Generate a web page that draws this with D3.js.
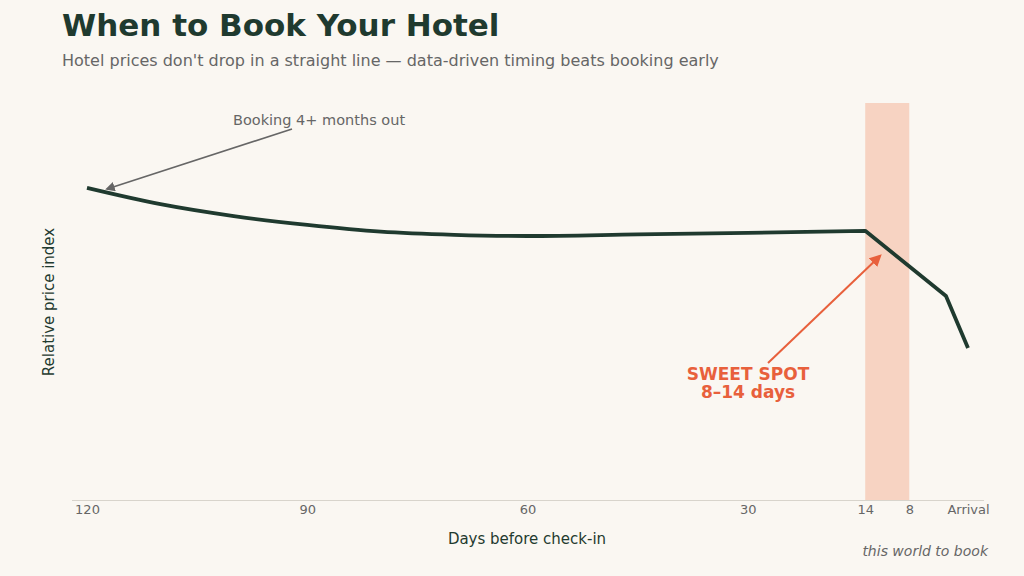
<!DOCTYPE html><html><head><meta charset="utf-8">
<script src="https://cdn.jsdelivr.net/npm/d3@7"></script>
<style>body{margin:0;background:#faf7f2;font-family:"DejaVu Sans",sans-serif}</style></head><body>
<svg id="c" width="1024" height="576"></svg>
<script>
const days=[120,110,100,90,80,70,60,45,30,14,3,0];
const price=[78.6,74.5,71.5,69.3,67.6,66.8,66.5,66.9,67.3,67.8,51.4,38.3];
const tickVals=[120,90,60,30,14,8,0];
const tickLabels=["120","90","60","30","14","8","Arrival"];
const band=[14,8];
const svg=d3.select("#c");
svg.append("rect").attr("width",1024).attr("height",576).attr("fill","#faf7f2");
const x=d3.scaleLinear().domain([120,0]).range([87,968]);
const y=d3.scaleLinear().domain([0,100]).range([500,103]);
svg.append("rect").attr("x",x(band[0])).attr("y",y(100)).attr("width",x(band[1])-x(band[0])).attr("height",y(0)-y(100)).attr("fill","#f7d3c2");
svg.append("line").attr("x1",72).attr("x2",984).attr("y1",500.5).attr("y2",500.5).attr("stroke","#d8d4cc");
const ax=svg.append("g").attr("transform","translate(0,500)").call(d3.axisBottom(x).tickValues(tickVals).tickFormat((d,i)=>tickLabels[i]).tickSize(0).tickPadding(5));
ax.select(".domain").remove();
ax.selectAll("text").attr("font-size",13).attr("fill","#666").attr("font-family","DejaVu Sans");
const pts=days.map((d,i)=>[d,price[i]]);
const i14=days.indexOf(14);
const smooth=d3.line().x(d=>x(d[0])).y(d=>y(d[1])).curve(d3.curveMonotoneX);
const lin=d3.line().x(d=>x(d[0])).y(d=>y(d[1]));
svg.append("path").attr("d",smooth(pts.slice(0,i14+1))+lin(pts.slice(i14)).replace(/^M/,"L")).attr("fill","none").attr("stroke","#1f3a2f").attr("stroke-width",3.8).attr("stroke-linejoin","round");
const defs=svg.append("defs");
[["g","#666"],["o","#e8603c"]].forEach(([id,c])=>defs.append("marker").attr("id",id).attr("viewBox","0 0 10 10").attr("refX",8).attr("refY",5).attr("markerWidth",6).attr("markerHeight",6).attr("orient","auto").append("path").attr("d","M0,0L10,5L0,10z").attr("fill",c));
svg.append("line").attr("x1",292).attr("y1",129).attr("x2",107).attr("y2",189).attr("stroke","#666").attr("stroke-width",1.6).attr("marker-end","url(#g)");
svg.append("text").attr("x",233).attr("y",125).attr("font-size",14.5).attr("fill","#666").text("Booking 4+ months out");
svg.append("line").attr("x1",768).attr("y1",363).attr("x2",880).attr("y2",256).attr("stroke","#e8603c").attr("stroke-width",2).attr("marker-end","url(#o)");
svg.append("text").attr("x",748).attr("y",380).attr("text-anchor","middle").attr("font-size",17).attr("font-weight","bold").attr("fill","#e8603c").text("SWEET SPOT");
svg.append("text").attr("x",748).attr("y",398).attr("text-anchor","middle").attr("font-size",17).attr("font-weight","bold").attr("fill","#e8603c").text("8–14 days");
svg.append("text").attr("x",62).attr("y",36).attr("font-size",31).attr("font-weight","bold").attr("fill","#1f3a2f").text("When to Book Your Hotel");
svg.append("text").attr("x",62).attr("y",66).attr("font-size",16).attr("fill","#666").text("Hotel prices don't drop in a straight line — data-driven timing beats booking early");
svg.append("text").attr("transform","translate(54,302) rotate(-90)").attr("text-anchor","middle").attr("font-size",15).attr("fill","#1f3a2f").text("Relative price index");
svg.append("text").attr("x",527).attr("y",544).attr("text-anchor","middle").attr("font-size",15).attr("fill","#1f3a2f").text("Days before check-in");
svg.append("text").attr("x",988).attr("y",556).attr("text-anchor","end").attr("font-size",14).attr("font-style","italic").attr("fill","#666").text("this world to book");
</script></body></html>
